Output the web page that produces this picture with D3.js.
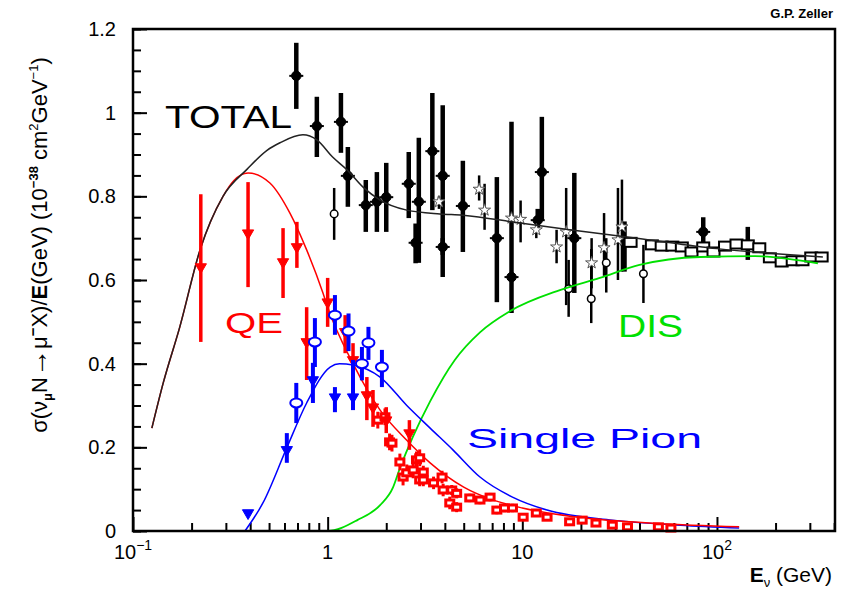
<!DOCTYPE html>
<html>
<head>
<meta charset="utf-8">
<script src="https://cdn.jsdelivr.net/npm/d3@7"></script>
<style>
  body { margin: 0; background: #fff; }
  text { font-family: "Liberation Sans", Arial, sans-serif; }
</style>
</head>
<body>
<svg id="chart" width="846" height="589"></svg>
<script>
// ---- data (E in GeV, sigma/E in 1e-38 cm^2/GeV) ----
var totalCurve = [[0.125,0.246],[0.143,0.354],[0.174,0.488],[0.221,0.672],[0.29,0.80],[0.386,0.865],[0.488,0.91],[0.569,0.928],[0.746,0.947],[0.88,0.935],[1.06,0.894],[1.26,0.863],[1.52,0.822],[1.86,0.791],[2.55,0.767],[3.77,0.758],[4.95,0.755],[9.73,0.736],[17.5,0.72],[38.8,0.70],[100,0.675],[200,0.663],[350,0.655]];
var qeCurve = [[0.125,0.246],[0.143,0.354],[0.174,0.488],[0.221,0.672],[0.29,0.80],[0.33,0.838],[0.39,0.856],[0.505,0.832],[0.64,0.76],[0.78,0.672],[0.946,0.569],[1.0,0.535],[1.35,0.40],[1.86,0.289],[2.55,0.217],[3.36,0.163],[5,0.105],[7,0.075],[10,0.055],[20,0.032],[50,0.018],[130,0.01]];
var pionCurve = [[0.376,0],[0.465,0.067],[0.618,0.2],[0.78,0.306],[1.03,0.392],[1.15,0.40],[1.35,0.397],[1.86,0.368],[2.55,0.30],[3.36,0.246],[4.4,0.194],[6.06,0.129],[8.9,0.081],[13.4,0.05],[29,0.026],[65,0.014],[130,0.007]];
var disCurve = [[0.125,0],[1.0,0],[1.42,0.026],[1.86,0.062],[2.17,0.105],[2.35,0.15],[2.74,0.225],[3.36,0.31],[4.5,0.409],[6.06,0.475],[8.6,0.525],[15.6,0.576],[25,0.605],[40,0.636],[82,0.655],[157,0.657],[330,0.64]];

// [E, value, low, high]
var blackFilled = [[0.69,1.088,1.009,1.167],[0.88,0.968,0.894,1.038],[1.17,0.978,0.904,1.047],[1.27,0.849,0.775,0.918],[1.57,0.779,0.715,0.839],[1.79,0.787,0.715,0.858],[2.0,0.798,0.715,0.88],[2.61,0.83,0.748,0.906],[2.94,0.787,0.641,0.94],[2.83,0.689,0.64,0.735],[3.45,0.908,0.767,1.047],[3.9,0.849,0.607,1.018],[3.9,0.679,0.66,0.70],[4.95,0.777,0.667,0.885],[7.4,0.70,0.547,0.846],[8.8,0.607,0.521,0.978],[12.6,0.858,0.743,0.99],[12.0,0.743,0.72,0.77],[18.5,0.70,0.569,0.856],[33.5,0.69,0.62,0.74],[85,0.715,0.68,0.75],[144,0.684,0.648,0.727]];
var blackOpen = [[1.08,0.758,0.696,0.82],[17.3,0.579,0.512,0.648],[22.6,0.555,0.497,0.674],[27,0.641,0.57,0.70],[41.9,0.615,0.545,0.684]];
var blackStars = [[3.73,0.787,0.77,0.80],[6.0,0.817,0.79,0.85],[6.4,0.767,0.72,0.83],[8.8,0.748,0.73,0.76],[9.8,0.745,0.69,0.79],[11.8,0.72,0.70,0.74],[15,0.679,0.64,0.72],[16.8,0.715,0.54,0.82],[22.7,0.641,0.58,0.70],[26.3,0.677,0.61,0.76],[31,0.696,0.60,0.82],[32.5,0.727,0.62,0.84]];
var blackSquares = [[36,0.69],[46.3,0.684],[52,0.681],[59,0.681],[66,0.679],[74,0.667],[85,0.679],[96,0.667],[110,0.681],[126,0.686],[144,0.684],[165,0.677],[187,0.653],[215,0.643],[245,0.646],[275,0.646],[305,0.655],[345,0.655]];

var redTri = [[0.223,0.631,0.452,0.805],[0.39,0.712,0.583,0.834],[0.59,0.643,0.557,0.724],[0.695,0.679,0.629,0.739],[0.78,0.452,0.361,0.535],[1.0,0.547,0.488,0.605],[1.23,0.476,0.425,0.516],[1.35,0.409,0.368,0.449],[1.59,0.325,0.265,0.368],[1.71,0.296,0.249,0.337],[2.0,0.265,0.234,0.296],[2.63,0.234,0.194,0.265]];
// [E, value, error]
var redSmall = [[1.81,0.265,0.02],[2.08,0.213,0.02],[1.97,0.273,0.02],[2.14,0.21,0.02],[2.35,0.165,0.02],[2.44,0.129,0.02],[2.55,0.139,0.02],[2.75,0.146,0.02],[2.86,0.17,0.02],[2.97,0.175,0.02],[2.97,0.122,0.015],[3.1,0.141,0.015],[3.1,0.122,0.015],[3.5,0.115,0.015],[3.87,0.129,0.015],[3.92,0.098,0.015],[4.24,0.067,0.015],[4.34,0.098,0.012],[4.6,0.09,0.012],[4.6,0.057,0.012],[5.37,0.079,0.01],[6.06,0.074,0.01],[6.83,0.081,0.01],[7.4,0.05,0.01],[8.1,0.055,0.01],[8.9,0.055,0.01],[10.1,0.033,0.008],[11.8,0.043,0.008],[13.4,0.033,0.008],[17.5,0.022,0.006],[20.3,0.026,0.006],[23.9,0.019,0.005],[29,0.014,0.005],[34.7,0.01,0.004],[50,0.01,0.004],[58,0.007,0.004]];

var blueOpen = [[0.69,0.306,0.258,0.354],[0.86,0.452,0.392,0.509],[1.09,0.516,0.469,0.564],[1.28,0.478,0.43,0.52],[1.5,0.40,0.36,0.44],[1.62,0.45,0.409,0.488],[1.9,0.392,0.344,0.433]];
var blueTri = [[0.39,0.043,0.043,0.043],[0.617,0.194,0.163,0.234],[0.84,0.361,0.306,0.402],[1.09,0.32,0.284,0.344],[1.35,0.32,0.289,0.409]];

var yTicks = [0, 0.2, 0.4, 0.6, 0.8, 1, 1.2];
var xTickLabels = [[0.1, "10", "\u22121"], [1, "1", ""], [10, "10", ""], [100, "10", "2"]];

// ---- layout ----
var svg = d3.select("#chart");
var x = d3.scaleLog().domain([0.1, 404]).range([133, 835]);
var y = d3.scaleLinear().domain([0, 1.2]).range([531, 29]);

var line = d3.line()
  .x(function (d) { return x(d[0]); })
  .y(function (d) { return y(d[1]); })
  .curve(d3.curveMonotoneX);

// axes: ticks pointing inward
var xMinor = [];
[0.1, 1, 10, 100].forEach(function (dec) {
  for (var k = 2; k <= 9; k++) { if (dec * k < 404) xMinor.push(dec * k); }
});
svg.append("g").attr("transform", "translate(0,531)")
  .call(d3.axisBottom(x).tickValues(xMinor).tickSize(-8).tickFormat(""))
  .call(function (g) { g.select(".domain").remove(); g.selectAll("line").attr("stroke-width", 2); });
svg.append("g").attr("transform", "translate(0,531)")
  .call(d3.axisBottom(x).tickValues([0.1, 1, 10, 100]).tickSize(-14).tickFormat(""))
  .call(function (g) { g.select(".domain").remove(); g.selectAll("line").attr("stroke-width", 2); });

var yMinor = d3.range(0, 1.2001, 0.05);
svg.append("g").attr("transform", "translate(133,0)")
  .call(d3.axisLeft(y).tickValues(yMinor).tickSize(-8).tickFormat(""))
  .call(function (g) { g.select(".domain").remove(); g.selectAll("line").attr("stroke-width", 2); });
svg.append("g").attr("transform", "translate(133,0)")
  .call(d3.axisLeft(y).tickValues(yTicks).tickSize(-14).tickPadding(17)
    .tickFormat(function (d) { return d3.format("~g")(d); }))
  .call(function (g) {
    g.select(".domain").remove();
    g.selectAll("line").attr("stroke-width", 2);
    g.selectAll("text").attr("font-size", 20).attr("font-family", "Liberation Sans, Arial, sans-serif").attr("fill", "#000");
  });

// x tick labels with exponents
xTickLabels.forEach(function (t) {
  var tx = svg.append("text").attr("x", x(t[0])).attr("y", 559)
    .attr("text-anchor", "middle").attr("font-size", 20);
  tx.append("tspan").text(t[1]);
  if (t[2]) tx.append("tspan").attr("font-size", 14).attr("dy", -9).text(t[2]);
});

// ---- error bar helpers ----
function bars(data, color, width) {
  svg.append("g").selectAll("line").data(data.filter(function (d) { return d[3] > d[2]; }))
    .enter().append("line")
    .attr("x1", function (d) { return x(d[0]); }).attr("x2", function (d) { return x(d[0]); })
    .attr("y1", function (d) { return y(d[2]); }).attr("y2", function (d) { return y(d[3]); })
    .attr("stroke", color).attr("stroke-width", width);
}
function symbols(data, type, size, rotate, fill, stroke, sw) {
  svg.append("g").selectAll("path").data(data).enter().append("path")
    .attr("d", d3.symbol().type(type).size(size))
    .attr("transform", function (d) { return "translate(" + x(d[0]) + "," + y(d[1]) + ") rotate(" + rotate + ")"; })
    .attr("fill", fill).attr("stroke", stroke).attr("stroke-width", sw);
}

// black data
bars(blackOpen, "#000", 2.5);
bars(blackStars, "#000", 2.5);
bars(blackFilled, "#000", 4.5);
symbols(blackFilled, d3.symbolCircle, 70, 0, "#000", "#000", 1);
svg.append("g").selectAll("line").data(blackFilled).enter().append("line")
  .attr("x1", function (d) { return x(d[0]) - 7; }).attr("x2", function (d) { return x(d[0]) + 7; })
  .attr("y1", function (d) { return y(d[1]); }).attr("y2", function (d) { return y(d[1]); })
  .attr("stroke", "#000").attr("stroke-width", 2);
symbols(blackOpen, d3.symbolCircle, 45, 0, "#fff", "#000", 1.5);
symbols(blackStars, d3.symbolStar, 45, 0, "#fff", "#555", 1);
svg.append("g").selectAll("rect").data(blackSquares).enter().append("rect")
  .attr("x", function (d) { return x(d[0]) - 6; }).attr("y", function (d) { return y(d[1]) - 4.5; })
  .attr("width", 12).attr("height", 9)
  .attr("fill", "#fff").attr("stroke", "#000").attr("stroke-width", 2);

// model curves
svg.append("path").datum(disCurve).attr("d", line).attr("fill", "none").attr("stroke", "#00e000").attr("stroke-width", 1.8);
svg.append("path").datum(pionCurve).attr("d", line).attr("fill", "none").attr("stroke", "#0000ff").attr("stroke-width", 1.5);
svg.append("path").datum(qeCurve).attr("d", line).attr("fill", "none").attr("stroke", "#ff0000").attr("stroke-width", 1.5);
svg.append("path").datum(totalCurve).attr("d", line).attr("fill", "none").attr("stroke", "#222").attr("stroke-width", 1.5);

// red data
var redSmallB = redSmall.map(function (d) { return [d[0], d[1], d[1] - d[2], d[1] + d[2]]; });
bars(redSmallB, "#ff0000", 3);
svg.append("g").selectAll("rect").data(redSmall).enter().append("rect")
  .attr("x", function (d) { return x(d[0]) - 4; }).attr("y", function (d) { return y(d[1]) - 3; })
  .attr("width", 8).attr("height", 6)
  .attr("fill", "#fff").attr("stroke", "#ff0000").attr("stroke-width", 3);
bars(redTri, "#ff0000", 3.5);
symbols(redTri, d3.symbolTriangle, 55, 180, "#ff0000", "#ff0000", 1);

// blue data
bars(blueOpen, "#0000ff", 4);
bars(blueTri, "#0000ff", 4);
symbols(blueTri, d3.symbolTriangle, 55, 180, "#0000ff", "#0000ff", 1);
svg.append("g").selectAll("ellipse").data(blueOpen).enter().append("ellipse")
  .attr("cx", function (d) { return x(d[0]); }).attr("cy", function (d) { return y(d[1]); })
  .attr("rx", 6).attr("ry", 4.5)
  .attr("fill", "#fff").attr("stroke", "#0000ff").attr("stroke-width", 2);

// frame
svg.append("rect").attr("x", 133).attr("y", 29).attr("width", 702).attr("height", 502)
  .attr("fill", "none").attr("stroke", "#000").attr("stroke-width", 2.5);

// curve labels
function label(t, lx, ly, color, len, size) {
  svg.append("text").attr("x", lx).attr("y", ly).attr("fill", color)
    .attr("font-size", size).attr("textLength", len).attr("lengthAdjust", "spacingAndGlyphs").text(t);
}
label("TOTAL", 165, 128, "#000", 127, 32);
label("QE", 225, 333, "#ff0000", 58, 29);
label("DIS", 618, 337, "#00e000", 65, 32);
label("Single Pion", 467, 448, "#0000ff", 235, 28);

// author
svg.append("text").attr("x", 833).attr("y", 18).attr("text-anchor", "end")
  .attr("font-size", 13).attr("font-weight", "bold").text("G.P. Zeller");

// x title
var xt = svg.append("text").attr("x", 832).attr("y", 582).attr("text-anchor", "end").attr("font-size", 21);
xt.append("tspan").attr("font-weight", "bold").text("E");
xt.append("tspan").attr("font-size", 13).attr("dy", 5).text("\u03bd");
xt.append("tspan").attr("dy", -5).text(" (GeV)");

// y title
var yt = svg.append("text").attr("transform", "translate(47,245) rotate(-90)")
  .attr("text-anchor", "middle").attr("font-size", 22);
yt.append("tspan").text("\u03c3(\u03bd");
yt.append("tspan").attr("font-size", 13).attr("dy", 5).attr("font-weight", "bold").text("\u03bc");
yt.append("tspan").attr("dy", -5).text("N");
yt.append("tspan").attr("font-weight", "bold").attr("font-size", 28).text("\u2192");
yt.append("tspan").text("\u03bc");
yt.append("tspan").attr("font-size", 15).attr("dy", -9).attr("font-weight", "bold").text("\u2212");
yt.append("tspan").attr("dy", 9).text("X)/");
yt.append("tspan").attr("font-weight", "bold").text("E");
yt.append("tspan").text("(GeV)  (10");
yt.append("tspan").attr("font-size", 13).attr("dy", -9).attr("font-weight", "bold").text("\u221238");
yt.append("tspan").attr("dy", 9).text(" cm");
yt.append("tspan").attr("font-size", 13).attr("dy", -9).text("2");
yt.append("tspan").attr("dy", 9).text("GeV");
yt.append("tspan").attr("font-size", 13).attr("dy", -9).text("\u22121");
yt.append("tspan").attr("dy", 9).text(")");
</script>
</body>
</html>
